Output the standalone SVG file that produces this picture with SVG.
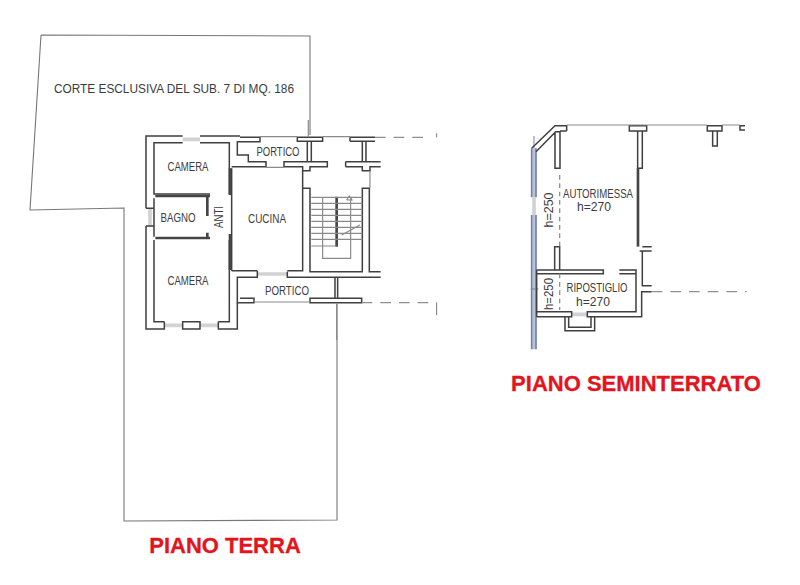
<svg xmlns="http://www.w3.org/2000/svg" width="800" height="585" viewBox="0 0 800 585">
<defs><filter id="soft" x="-5%" y="-5%" width="110%" height="110%"><feGaussianBlur stdDeviation="1.1"/></filter></defs>
<style>
.w{fill:none;stroke:#3f3f3f;stroke-width:4.5}
.t{fill:none;stroke:#454545;stroke-width:8}
.l{fill:none;stroke:#8a8a8a;stroke-width:3.5}
.z{fill:none;stroke:#d2d2d2;stroke-width:11}
.d{fill:none;stroke:#909090;stroke-width:4;stroke-dasharray:32 24}
.v{fill:none;stroke:#909090;stroke-width:4;stroke-dasharray:14 11}
.b{fill:none;stroke:#6f80ad;stroke-width:5}
.s{fill:none;stroke:#777;stroke-width:3}
text{font-family:"Liberation Sans",Arial,sans-serif;fill:#3c3c3c;text-anchor:middle;font-size:12.5px}
.r{font-weight:bold;fill:#e3141c;font-size:22px;stroke:#e3141c;stroke-width:.3}
</style>
<rect width="800" height="585" fill="#fff"/>
<g id="corte"><path fill="none" stroke="#777" stroke-width="1.1" d="M41,35 L310,36 V135 M41,35 L30,210 L124,208 V521 L337,520 V304"/></g>
<g id="piano-terra" transform="translate(130 120) scale(.3333)" filter="url(#soft)">
<path class="z" d="M158,58H210M103,616H158M210,616H265M60,265V318M382,462H472"/>
<path class="w" d="M158,48H48V265M48,318V627H103V605M265,605V627H322V548M158,605H210V627H158ZM210,48H330M158,68H72V222H240M210,68H298V222M72,235V350M72,360V605H103M265,605H298V452M298,360V452M48,265H72M48,318H72"/>
<path class="w" d="M330,52H390V65H322V105H355V125H408V140H305M462,125H592V140H540V152H518V140H462ZM502,52H578V64H502ZM532,64V125M544,64V125M660,52H735M660,64H735M660,52V64M697,64V125M708,64V125M647,125H752M647,140H697V152H720V140H752M647,125V140"/>
<path class="w" d="M518,205H540V455H697V205H718V455H752M305,452H382M305,145V452M518,152V205M518,205V452H472M382,452V472H322V548H372V535H330M472,455V472H752M540,535H695V548H540ZM615,472V535M623,472V535"/>
<path class="t" d="M300,145V225M300,342V450M76,228H240M76,354H240M232,228V288M232,338V354M620,230V380"/>
<path class="l" d="M372,546H540M408,142H462M535,0V52M620,548V660M390,50H502M578,50H660M720,152V205"/>
<path class="d" d="M735,52H900M695,548H920"/>
<path class="s" d="M920,548V585M920,40V52"/>
<path class="l" d="M544,232H697M544,250H697M544,268H697M544,286H697M544,304H697M544,322H697M544,340H697M544,358H697M544,378H620M578,232V415H662V232"/>
<path class="l" d="M635,345L690,315M650,240L658,228L666,240H650"/>
</g>
<g id="piano-seminterrato" transform="translate(510 110) scale(.3333)" filter="url(#soft)">
<path d="M72,115V262M72,315V718" fill="none" stroke="#b9c0d4" stroke-width="10"/>
<path class="b" d="M65,115V262M65,315V718M78,115V262M78,315V718"/>
<path class="b" style="stroke-width:3" d="M72,78V115M62,537H85"/>
<path class="z" d="M72,262V315M185,613H232"/>
<path class="w" d="M65,115L135,47H170V63M78,125L137,65H150M170,63H150M135,65V175H150V65M358,47H410V63H358ZM383,63V175H397V63M592,47H636V63H592ZM608,63V108H622V63M705,47H690V60H705"/>
<path class="t" d="M384,175V410"/>
<path class="w" d="M134,480V410H149V480M80,480H280V491H80M328,480H378V491H328M378,491V605H232V620H395V545H425M397,410H425M389,423H425M397,423V527H425M80,605H185V620H80M80,480V620M165,620V662H254V620M176,620V652H243V620"/>
<path class="l" d="M170,45H592M636,45H690"/>
<path class="v" d="M149,195V410M149,491V600"/>
<path class="d" d="M425,545H710"/>
</g>
<g id="labels">
<text x="174" y="93" textLength="240" lengthAdjust="spacingAndGlyphs">CORTE ESCLUSIVA DEL SUB. 7 DI MQ. 186</text>
<text x="278" y="156" textLength="43" lengthAdjust="spacingAndGlyphs">PORTICO</text>
<text x="188" y="171" textLength="41" lengthAdjust="spacingAndGlyphs">CAMERA</text>
<text x="178" y="222" textLength="35" lengthAdjust="spacingAndGlyphs">BAGNO</text>
<text x="267" y="223" textLength="38" lengthAdjust="spacingAndGlyphs">CUCINA</text>
<text transform="translate(223 217) rotate(-90)" textLength="22" lengthAdjust="spacingAndGlyphs">ANTI</text>
<text x="188" y="285" textLength="41" lengthAdjust="spacingAndGlyphs">CAMERA</text>
<text x="287" y="295" textLength="44" lengthAdjust="spacingAndGlyphs">PORTICO</text>
<text x="598" y="198" textLength="70" lengthAdjust="spacingAndGlyphs">AUTORIMESSA</text>
<text x="594" y="211" textLength="34" lengthAdjust="spacingAndGlyphs">h=270</text>
<text x="597" y="292" textLength="61" lengthAdjust="spacingAndGlyphs">RIPOSTIGLIO</text>
<text x="593" y="306" textLength="34" lengthAdjust="spacingAndGlyphs">h=270</text>
<text transform="translate(553 210) rotate(-90)" textLength="35" lengthAdjust="spacingAndGlyphs">h=250</text>
<text transform="translate(553 294) rotate(-90)" textLength="32" lengthAdjust="spacingAndGlyphs">h=250</text>
<text class="r" x="225" y="553">PIANO TERRA</text>
<text class="r" x="636" y="391">PIANO SEMINTERRATO</text>
</g>
</svg>
